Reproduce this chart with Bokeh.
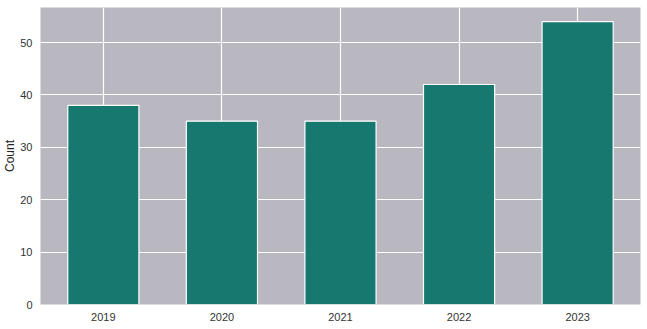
from bokeh.plotting import figure
from bokeh.models import ColumnDataSource, Range1d, FixedTicker
from bokeh.embed import file_html
from bokeh.resources import INLINE

years = ["2019", "2020", "2021", "2022", "2023"]
counts = [38, 35, 35, 42, 54]
y_ticks = [0, 10, 20, 30, 40, 50]

xs = list(range(len(years)))
src = ColumnDataSource(dict(x=xs, count=counts))

p = figure(width=647, height=329, output_backend="svg", toolbar_location=None,
           x_range=Range1d(-0.53, 4.53), y_range=Range1d(0, 56.7),
           min_border_left=40, min_border_right=7, min_border_top=7, min_border_bottom=25)

p.background_fill_color = "#b9b8c0"
p.border_fill_color = "white"
p.outline_line_color = None

p.vbar(x="x", top="count", width=0.6, source=src, fill_color="#177870",
       line_color="white", line_width=1.2)

p.xaxis.ticker = FixedTicker(ticks=xs)
p.xaxis.major_label_overrides = {i: y for i, y in enumerate(years)}
p.yaxis.ticker = FixedTicker(ticks=y_ticks)
p.yaxis.axis_label = "Count"

for ax in (p.xaxis[0], p.yaxis[0]):
    ax.axis_line_color = None
    ax.major_tick_line_color = None
    ax.minor_tick_line_color = None
    ax.major_tick_out = 0
    ax.major_tick_in = 0
    ax.major_label_text_font = "Liberation Sans"
    ax.major_label_text_font_size = "11px"
    ax.major_label_text_color = "#333333"
    ax.axis_label_text_font = "Liberation Sans"
    ax.axis_label_text_font_size = "12px"
    ax.axis_label_text_font_style = "normal"
    ax.axis_label_text_color = "#222222"

p.xaxis.major_label_standoff = 8
p.yaxis.major_label_standoff = 8
p.yaxis.axis_label_standoff = 0

p.grid.grid_line_color = "white"
p.grid.grid_line_width = 1.2
p.grid.grid_line_alpha = 1.0

open("out.html", "w").write(file_html(p, INLINE))
